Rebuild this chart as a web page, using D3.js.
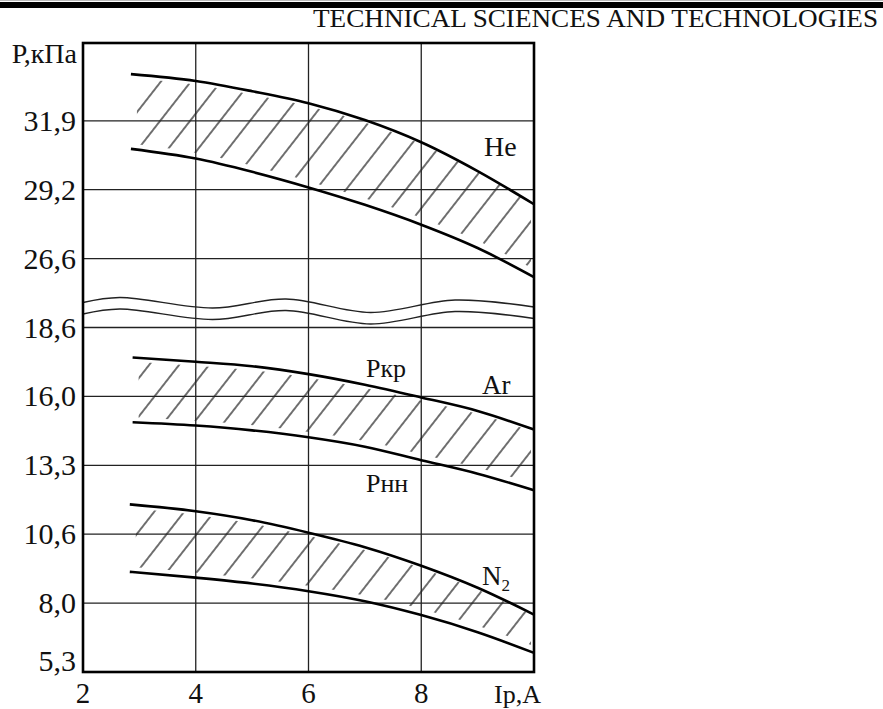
<!DOCTYPE html>
<html>
<head>
<meta charset="utf-8">
<script src="https://cdn.jsdelivr.net/npm/d3@7"></script>
<style>
  html, body { margin: 0; padding: 0; background: #fff; }
  svg { display: block; }
  text { font-family: "Liberation Serif", "Times New Roman", serif; fill: #111; }
</style>
</head>
<body>
<script>
// ---------------- data ----------------
const headerTitle = "TECHNICAL SCIENCES AND TECHNOLOGIES";
const xTicks = [2, 4, 6, 8];
const xDomain = [2, 10];
const xTitle = "Iр,А";
const yTitle = "Р,кПа";
const yTicksLow = [5.3, 8.0, 10.6, 13.3, 16.0, 18.6];   // lower part of broken axis
const yTicksHigh = [26.6, 29.2, 31.9];                  // upper part of broken axis
const yTickLabels = ["5,3", "8,0", "10,6", "13,3", "16,0", "18,6", "26,6", "29,2", "31,9"];

// Helium (upper panel)
const heX     = [2.85, 4, 5, 6, 7, 8, 9, 10];
const heUpper = [33.73, 33.46, 33.06, 32.59, 31.93, 31.06, 29.93, 28.65];
const heLower = [30.80, 30.42, 29.90, 29.29, 28.63, 27.88, 27.00, 25.90];
// Argon (lower panel)
const arX     = [2.88, 4, 5, 6, 7, 8, 9, 10];
const arUpper = [17.47, 17.31, 17.14, 16.84, 16.44, 15.96, 15.43, 14.70];
const arLower = [14.99, 14.86, 14.67, 14.40, 14.03, 13.50, 12.97, 12.32];
// Nitrogen (lower panel)
const n2X     = [2.83, 4, 5, 6, 7, 8, 9, 10];
const n2Upper = [11.77, 11.50, 11.15, 10.66, 10.11, 9.41, 8.58, 7.55];
const n2Lower = [9.18, 8.96, 8.74, 8.45, 8.07, 7.53, 6.86, 6.05];

// axis-break wave (x in data units, y offset in px above the 18,6 line)
const waveX      = [2, 2.65, 4.3, 5.6, 7.1, 8.6, 10];
const waveOffset = [-25, -30, -19.5, -28.5, -15, -27.5, -20.5];

// ---------------- layout ----------------
const W = 883, H = 709;
const mLeft = 83, mRight = 534, mTop = 43, mBottom = 672;
const step = 68.9; // vertical distance between consecutive ticks

const svg = d3.select("body").append("svg").attr("width", W).attr("height", H);

const x = d3.scaleLinear().domain(xDomain).range([mLeft, mRight]);
const yLow = d3.scaleLinear().domain(yTicksLow)
  .range(yTicksLow.map((d, i) => mBottom - i * step));
const yHigh = d3.scaleLinear().domain(yTicksHigh)
  .range(yTicksHigh.map((d, i) => mBottom - (i + yTicksLow.length) * step));

// ---------------- header ----------------
svg.append("rect").attr("x", 0).attr("y", 0).attr("width", W).attr("height", 1).attr("fill", "#bbb");
svg.append("rect").attr("x", 0).attr("y", 2).attr("width", W).attr("height", 6).attr("fill", "#000");
svg.append("text").attr("x", 878).attr("y", 27).attr("text-anchor", "end")
  .attr("font-size", 26).attr("textLength", 565).attr("lengthAdjust", "spacingAndGlyphs")
  .text(headerTitle);

// ---------------- hatch pattern ----------------
const defs = svg.append("defs");
const pat = defs.append("pattern").attr("id", "hatch")
  .attr("patternUnits", "userSpaceOnUse").attr("width", 23.6).attr("height", 20)
  .attr("patternTransform", "rotate(38)");
pat.append("line").attr("x1", 11.8).attr("y1", -2).attr("x2", 11.8).attr("y2", 22)
  .attr("stroke", "#111").attr("stroke-width", 1.2);
defs.append("clipPath").attr("id", "plotClip").append("rect")
  .attr("x", mLeft).attr("y", mTop).attr("width", mRight - mLeft - 3).attr("height", mBottom - mTop);

const bands = [
  { xs: heX, up: heUpper, lo: heLower, y: yHigh },
  { xs: arX, up: arUpper, lo: arLower, y: yLow },
  { xs: n2X, up: n2Upper, lo: n2Lower, y: yLow }
];
const gap = 4.5;
const hatchG = svg.append("g").attr("clip-path", "url(#plotClip)");
bands.forEach(b => {
  const pts = b.xs.map((xv, i) => ({ x: xv, u: b.up[i], l: b.lo[i] }));
  const area = d3.area().curve(d3.curveMonotoneX)
    .x(d => x(d.x) + 6)
    .y0(d => b.y(d.l) - gap)
    .y1(d => b.y(d.u) + gap);
  hatchG.append("path").attr("d", area(pts)).attr("fill", "url(#hatch)");
});

// ---------------- grid ----------------
const grid = svg.append("g").attr("stroke", "#222").attr("stroke-width", 1.3);
xTicks.slice(1).forEach(t => {
  grid.append("line").attr("x1", x(t)).attr("x2", x(t)).attr("y1", mTop).attr("y2", mBottom);
});
const allTicks = yTicksLow.map(v => ({ v, y: yLow(v) })).concat(yTicksHigh.map(v => ({ v, y: yHigh(v) })));
allTicks.forEach((t, i) => {
  if (i === 0) return;
  grid.append("line").attr("x1", mLeft).attr("x2", mRight).attr("y1", t.y).attr("y2", t.y);
});

// ---------------- break waves ----------------
const wave = d3.line().curve(d3.curveCatmullRom.alpha(0.5))
  .x(d => x(d[0])).y(d => d[1]);
const baseY = yLow(yTicksLow[yTicksLow.length - 1]);
[0, 11.5].forEach(dy => {
  svg.append("path")
    .attr("d", wave(waveX.map((xv, i) => [xv, baseY + waveOffset[i] + dy])))
    .attr("fill", "none").attr("stroke", "#222").attr("stroke-width", 1.4);
});

// ---------------- curves ----------------
bands.forEach(b => {
  const line = d3.line().curve(d3.curveMonotoneX).x(d => x(d[0])).y(d => b.y(d[1]));
  [b.up, b.lo].forEach(arr => {
    svg.append("path").attr("d", line(b.xs.map((xv, i) => [xv, arr[i]])))
      .attr("fill", "none").attr("stroke", "#000").attr("stroke-width", 2.6);
  });
});

// ---------------- frame ----------------
svg.append("rect").attr("x", mLeft).attr("y", mTop).attr("width", mRight - mLeft).attr("height", mBottom - mTop)
  .attr("fill", "none").attr("stroke", "#000").attr("stroke-width", 2.6);

// ---------------- axis labels ----------------
allTicks.forEach((t, i) => {
  svg.append("text").attr("x", 76).attr("y", i === 0 ? t.y - 1 : t.y + 10)
    .attr("text-anchor", "end").attr("font-size", 30).text(yTickLabels[i]);
});
svg.append("text").attr("x", 77).attr("y", 63).attr("text-anchor", "end")
  .attr("font-size", 28).text(yTitle);

xTicks.forEach(t => {
  svg.append("text").attr("x", x(t)).attr("y", 703).attr("text-anchor", "middle")
    .attr("font-size", 29).text(t);
});
svg.append("text").attr("x", x(10) + 7).attr("y", 703).attr("text-anchor", "end")
  .attr("font-size", 26).text(xTitle);

// ---------------- curve labels ----------------
svg.append("text").attr("x", 484).attr("y", 156).attr("font-size", 28).text("He");
svg.append("text").attr("x", 482).attr("y", 394).attr("font-size", 27).text("Ar");
svg.append("text").attr("x", 366).attr("y", 377).attr("font-size", 26).text("Ркр");
svg.append("text").attr("x", 366).attr("y", 492).attr("font-size", 26).text("Рнн");
const n2 = svg.append("text").attr("x", 482).attr("y", 585).attr("font-size", 27);
n2.append("tspan").text("N");
n2.append("tspan").attr("font-size", 17).attr("dy", 6).text("2");
</script>
</body>
</html>
